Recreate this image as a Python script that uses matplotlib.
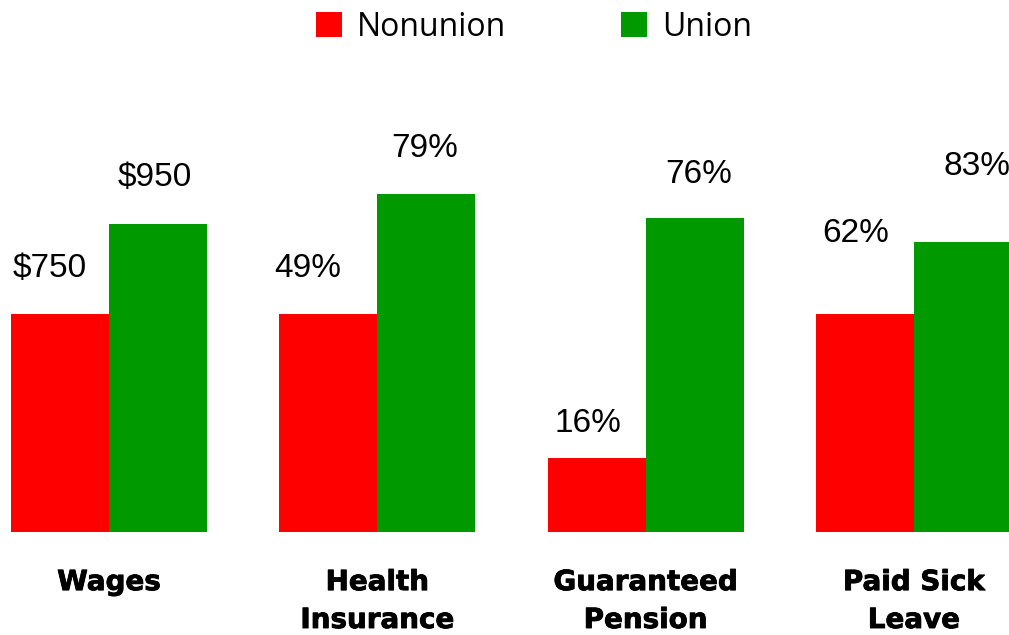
import matplotlib
matplotlib.use("Agg")
import matplotlib.pyplot as plt
import matplotlib.patheffects as pe
from matplotlib.patches import Patch
import numpy as np

# ---- data (bar heights, arbitrary units) ----
categories = ["Wages", "Health\nInsurance", "Guaranteed\nPension", "Paid Sick\nLeave"]
nonunion_heights = [218, 218, 74, 218]
union_heights = [308, 338, 314, 290]
nonunion_labels = ["$750", "49%", "16%", "62%"]
union_labels = ["$950", "79%", "76%", "83%"]
series_names = ["Nonunion", "Union"]

# ---- layout / style ----
RED = "#FF0000"
GREEN = "#009900"
nonunion_dx = [-10, -21, -9, -9]   # label offsets in pixels
nonunion_dy = [37, 37, 26, 72]
union_dx = [-3, -2, 4, 14]
union_dy = [38, 37, 35, 67]

W, H = 1009, 635
fig = plt.figure(figsize=(W / 100, H / 100), dpi=100)
base_px = 532
ax = fig.add_axes([0, (H - base_px) / H, 1, base_px / H])

spacing = 268.3
offset = 109
width = 98 / spacing
x = np.arange(len(categories))
ax.bar(x - width / 2, nonunion_heights, width, color=RED, linewidth=0)
ax.bar(x + width / 2, union_heights, width, color=GREEN, linewidth=0)

ax.set_xlim(-offset / spacing, (W - offset) / spacing)
ax.set_ylim(0, base_px)

lab_font = dict(family=["Liberation Sans", "DejaVu Sans"], size=24, color="black")
for i in range(len(categories)):
    ax.annotate(nonunion_labels[i], (x[i] - width / 2, nonunion_heights[i]),
                xytext=(nonunion_dx[i], nonunion_dy[i]), textcoords="offset pixels",
                ha="center", va="baseline", **lab_font)
    ax.annotate(union_labels[i], (x[i] + width / 2, union_heights[i]),
                xytext=(union_dx[i], union_dy[i]), textcoords="offset pixels",
                ha="center", va="baseline", annotation_clip=False, **lab_font)

ax.set_xticks(x)
ticklabels = ax.set_xticklabels(categories, fontsize=20, fontweight="bold",
                                family=["DejaVu Sans"], va="top", linespacing=1.45)
for t in ticklabels:
    t.set_path_effects([pe.withStroke(linewidth=0.6, foreground="black")])
ax.tick_params(axis="x", length=0, pad=26)
ax.set_yticks([])
for s in ax.spines.values():
    s.set_visible(False)

handles = [Patch(facecolor=RED, edgecolor="none"), Patch(facecolor=GREEN, edgecolor="none")]
fig.legend(handles, series_names, loc="center", bbox_to_anchor=(534 / W, 1 - 27 / H),
           ncol=2, frameon=False, prop=dict(family=["Open Sans", "DejaVu Sans"], size=23),
           handlelength=0.8, handleheight=0.8, handletextpad=0.47, columnspacing=3.6,
           borderpad=0, borderaxespad=0)

fig.savefig("out.png", dpi=100)
